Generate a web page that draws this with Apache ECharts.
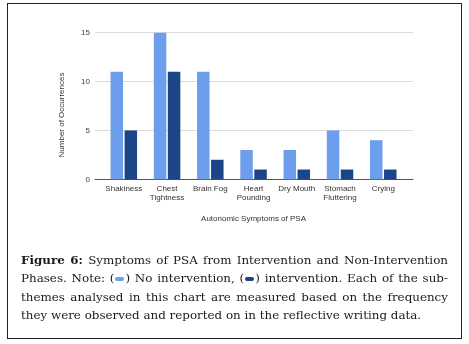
<!DOCTYPE html>
<html>
<head>
<meta charset="utf-8">
<script src="https://cdn.jsdelivr.net/npm/echarts@6/dist/echarts.min.js"></script>
<style>
  html, body { margin: 0; padding: 0; background: #fff; }
  #wrap { position: relative; width: 469px; height: 344px; overflow: hidden; }
  #frame { position: absolute; left: 7px; top: 3px; width: 453px; height: 334px; border: 1px solid #222; }
  #chart { position: absolute; left: 0; top: 0; width: 469px; height: 344px; }
  #caption { position: absolute; left: 21px; top: 250.5px; width: 427px;
    font-family: "DejaVu Serif", "Liberation Serif", serif; font-size: 11.9px; color: #1a1a1a; }
  #caption .ln { height: 18.6px; line-height: 18.6px; white-space: nowrap;
    text-align: justify; text-align-last: justify; }
  #caption .ln.last { text-align-last: left; }
  #caption b { font-weight: bold; }
  .chip { display: inline-block; width: 9px; height: 4px; border-radius: 2px; vertical-align: middle; margin: 0 1px; }
</style>
</head>
<body>
<div id="wrap">
  <div id="frame"></div>
  <div id="chart"></div>
  <div id="caption">
    <div class="ln"><b>Figure 6:</b> Symptoms of PSA from Intervention and Non-Intervention</div>
    <div class="ln">Phases. Note: (<span class="chip" style="background:#6d9eeb"></span>) No intervention, (<span class="chip" style="background:#1c4587"></span>) intervention. Each of the sub-</div>
    <div class="ln">themes analysed in this chart are measured based on the frequency</div>
    <div class="ln last">they were observed and reported on in the reflective writing data.</div>
  </div>
</div>
<script>
var categories = ['Shakiness', 'Chest\nTightness', 'Brain Fog', 'Heart\nPounding', 'Dry Mouth', 'Stomach\nFluttering', 'Crying']
var noIntervention = [11, 15, 11, 3, 3, 5, 4]
var intervention = [5, 11, 2, 1, 1, 1, 1]
var yMin = 0
var yMax = 15
var yStep = 5

var font = '"Liberation Sans", Arial, sans-serif'
var chart = echarts.init(document.getElementById('chart'))

var options = {
  animation: false,
  textStyle: { fontFamily: font },
  grid: [
    { left: 95, top: 32.7, width: 318, height: 146.6 },
    { left: 102.2, top: 32.7, width: 302.7, height: 146.6 }
  ],
  xAxis: [
    {
      gridIndex: 0, type: 'value', min: 0, max: 1,
      axisLine: { show: true, lineStyle: { color: '#555', width: 1 } },
      axisTick: { show: false }, axisLabel: { show: false }, splitLine: { show: false }
    },
    {
      gridIndex: 1, type: 'category', data: categories,
      axisLine: { show: false }, axisTick: { show: false },
      axisLabel: { fontSize: 8, lineHeight: 9, color: '#333', margin: 5, interval: 0, fontFamily: font },
      name: 'Autonomic Symptoms of PSA', nameLocation: 'middle', nameGap: 35,
      nameTextStyle: { fontSize: 8, color: '#333', fontFamily: font }
    }
  ],
  yAxis: [
    {
      gridIndex: 0, type: 'value', min: yMin, max: yMax, interval: yStep,
      axisLine: { show: false }, axisTick: { show: false },
      axisLabel: { fontSize: 8, color: '#444', margin: 5, fontFamily: font },
      splitLine: { lineStyle: { color: '#dcdcdc', width: 1 } }
    },
    { gridIndex: 1, type: 'value', min: yMin, max: yMax, show: false }
  ],
  graphic: [
    {
      type: 'text', x: 61.7, y: 115, rotation: Math.PI / 2,
      style: { text: 'Number of Occurrences', fontSize: 8, fill: '#333', fontFamily: font,
        align: 'center', verticalAlign: 'middle' }
    }
  ],
  series: [
    {
      name: 'No intervention', type: 'bar', xAxisIndex: 1, yAxisIndex: 1,
      data: noIntervention, barWidth: 12.5, barGap: '12%',
      itemStyle: { color: '#6d9eeb' }
    },
    {
      name: 'Intervention', type: 'bar', xAxisIndex: 1, yAxisIndex: 1,
      data: intervention, barWidth: 12.5, barGap: '12%',
      itemStyle: { color: '#1c4587' }
    }
  ]
}
chart.setOption(options)
</script>
</body>
</html>
